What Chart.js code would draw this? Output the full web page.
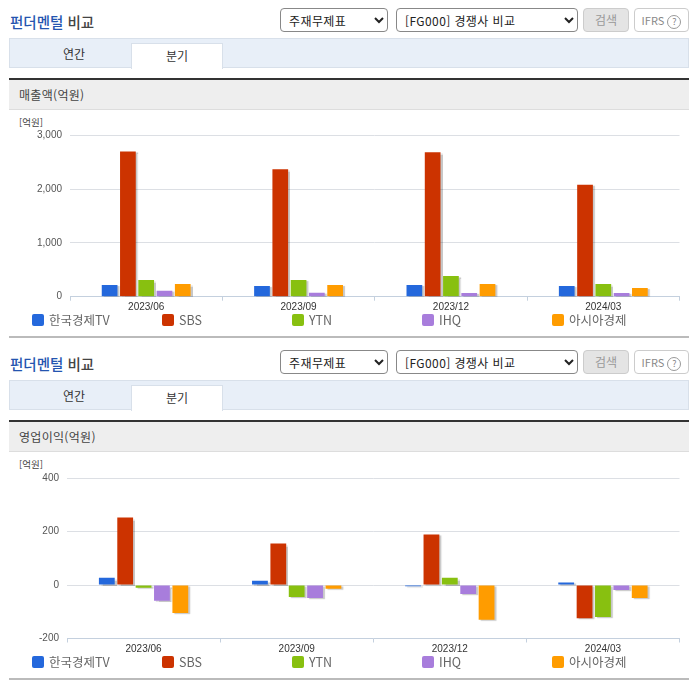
<!DOCTYPE html>
<html lang="ko"><head><meta charset="utf-8">
<script src="https://cdn.jsdelivr.net/npm/chart.js@4"></script>
<style>
html,body{margin:0;padding:0;background:#fff;overflow:hidden}
body{width:696px;height:684px;position:relative;font-family:"Noto Sans CJK KR","Noto Sans",sans-serif;color:#333}
.a{position:absolute;box-sizing:border-box}
.title{left:10px;font-size:14.5px;font-weight:500;line-height:20px;color:#444;white-space:nowrap}
.title b{font-weight:500;color:#2455b0}
select{position:absolute;box-sizing:border-box;height:24px;background:#fff;border:1px solid #888;border-radius:4px;font:12px "Noto Sans CJK KR",sans-serif;color:#222;padding:0 0 0 4px;letter-spacing:.4px}
.btn{height:24px;border-radius:4px;font-size:12px;line-height:22px;text-align:center}
.tabbar{left:9px;width:680px;height:30px;background:#e8eff8;border:1px solid #d8e0ea}
.tab{font-size:12px;line-height:24px;text-align:center;color:#333}
.on{background:#fff;border:1px solid #d8e0ea;border-bottom:0;height:26px}
.dark{left:9px;width:680px;height:2px;background:#333}
.head{left:9px;width:680px;height:30px;background:#eee;border-bottom:1px solid #ddd;font-size:12px;line-height:29px;padding-left:10px;color:#444;letter-spacing:.3px}
.unit{left:19px;font-size:9.5px;line-height:12px;color:#444}
.rule{left:9px;width:680px;height:2px;background:#bbb}
.lg{font-size:12.5px;line-height:16px;color:#666;white-space:nowrap}
.lg i{position:absolute;left:0;top:2px;width:12px;height:12px;border-radius:2px}
.lg span{position:absolute;left:17px;top:0}
canvas{position:absolute;left:0;display:block}
</style></head><body>
<script>
const categories = ["2023/06", "2023/09", "2023/12", "2024/03"];
const seriesNames = ["한국경제TV", "SBS", "YTN", "IHQ", "아시아경제"];
const seriesColors = ["#2468dc", "#cc3300", "#88c010", "#a87ddc", "#ff9c00"];

const revenueTV = [218, 200, 218, 200];
const revenueSBS = [2704, 2370, 2690, 2083];
const revenueYTN = [310, 310, 385, 236];
const revenueIHQ = [112, 75, 70, 70];
const revenueAsia = [236, 218, 236, 162];

const profitTV = [27, 16, -5, 9];
const profitSBS = [252, 155, 189, -124];
const profitYTN = [-10, -45, 27, -120];
const profitIHQ = [-59, -49, -34, -19];
const profitAsia = [-105, -14, -130, -49];

const revenueAxis = [0, 3000, 1000];
const profitAxis = [-200, 400, 200];

const shadow = {
  id: "barShadow",
  beforeDatasetsDraw(c) {
    c.ctx.save();
    c.ctx.shadowColor = "rgba(0,0,0,.22)";
    c.ctx.shadowOffsetX = 2;
    c.ctx.shadowOffsetY = 1;
    c.ctx.shadowBlur = 1;
  },
  afterDatasetsDraw(c) { c.ctx.restore(); }
};

function add(cls, css, html, tag) {
  const e = document.createElement(tag || "div");
  e.className = "a " + cls;
  e.style.cssText = css;
  e.innerHTML = html || "";
  document.body.appendChild(e);
  return e;
}

function section(dy, heading, values, axis, cfg) {
  add("title", `top:${12 + dy}px`, "<b>펀더멘털</b> 비교");
  add("", `left:280px;top:${8 + dy}px;width:108px;height:24px`, '<select style="left:0;top:0;width:108px"><option>주재무제표</option></select>');
  add("", `left:396px;top:${8 + dy}px;width:182px;height:24px`, '<select style="left:0;top:0;width:182px"><option>[FG000] 경쟁사 비교</option></select>');
  add("btn", `left:583px;top:${8 + dy}px;width:46px;background:#e4e4e4;border:1px solid #ccc;color:#999`, "검색");
  add("btn", `left:634px;top:${8 + dy}px;width:55px;background:#fff;border:1px solid #ccc;color:#888;font-size:11px`, 'IFRS <span style="display:inline-block;width:12px;height:12px;border:1px solid #999;border-radius:50%;font-size:9px;line-height:12px">?</span>');
  add("tabbar", `top:${38 + dy}px`);
  add("tab", `left:18px;width:112px;top:${42 + dy}px`, "연간");
  add("tab on", `left:131px;width:92px;top:${43 + dy}px`, "분기");
  add("dark", `top:${78 + dy}px`);
  add("head", `top:${80 + dy}px`, heading);
  add("unit", `top:${116 + dy}px`, "[억원]");
  add("rule", `top:${336 + dy}px`);

  const cv = document.createElement("canvas");
  cv.width = 696; cv.height = 195;
  cv.style.top = cfg.top + "px";
  cv.style.width = "696px"; cv.style.height = "195px";
  document.body.appendChild(cv);

  new Chart(cv, {
    type: "bar",
    data: {
      labels: categories,
      datasets: seriesNames.map((n, i) => ({
        label: n, data: values[i], backgroundColor: seriesColors[i],
        borderWidth: 0, categoryPercentage: 0.6, barPercentage: 0.86
      }))
    },
    options: {
      responsive: false, animation: false, devicePixelRatio: 1,
      layout: { padding: { top: cfg.padTop, right: 16.5, left: 0, bottom: 0 } },
      plugins: { legend: { display: false }, tooltip: { enabled: false } },
      scales: {
        x: {
          afterFit: s => { s.height = cfg.xHeight; },
          grid: { drawOnChartArea: false, drawTicks: true, tickLength: 4, color: "#c4d0de" },
          border: { color: "#c4d0de" },
          ticks: { color: "#333", font: { size: 10, family: "Liberation Sans" }, padding: 1, maxRotation: 0 }
        },
        y: {
          min: axis[0], max: axis[1],
          afterFit: s => { s.width = cfg.left; },
          grid: { color: "#dcdfe4", drawTicks: false },
          border: { display: false },
          ticks: { stepSize: axis[2], color: "#555", padding: 8, font: { size: 10, family: "Liberation Sans" },
                   callback: v => v.toLocaleString("en-US") }
        }
      }
    },
    plugins: [shadow]
  });

  seriesNames.forEach((n, i) => {
    add("lg", `left:${32 + 130 * i}px;top:${312 + dy}px;width:120px;height:16px`,
        `<i style="background:${seriesColors[i]}"></i><span>${n}</span>`);
  });
}

section(0, "매출액(억원)", [revenueTV, revenueSBS, revenueYTN, revenueIHQ, revenueAsia], revenueAxis,
        { top: 120, padTop: 15.5, xHeight: 18.3, left: 70 });
section(342, "영업이익(억원)", [profitTV, profitSBS, profitYTN, profitIHQ, profitAsia], profitAxis,
        { top: 462, padTop: 16, xHeight: 18.5, left: 67 });
</script>
</body></html>
